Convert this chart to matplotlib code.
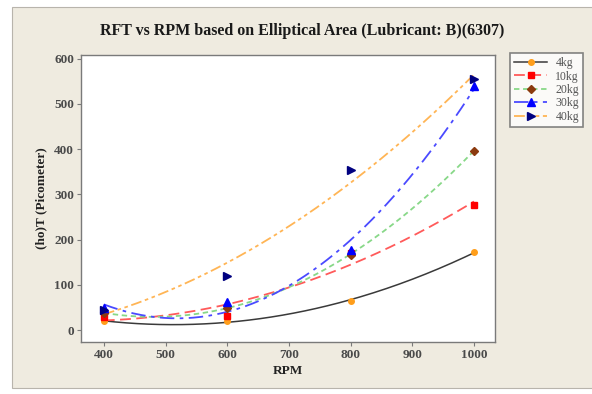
import numpy as np
import matplotlib
matplotlib.use("Agg")
import matplotlib.pyplot as plt
from matplotlib.lines import Line2D
from matplotlib.patches import Rectangle

rpm = [400, 600, 800, 1000]
labels = ["4kg", "10kg", "20kg", "30kg", "40kg"]
v4 = [20, 20, 65, 172]
v10 = [30, 32, 170, 276]
v20 = [38, 50, 167, 397]
v30 = [50, 62, 178, 540]
v40 = [45, 120, 355, 555]
series = [v4, v10, v20, v30, v40]

title = "RFT vs RPM based on Elliptical Area (Lubricant: B)(6307)"
xlabel = "RPM"
ylabel = "(ho)T (Picometer)"
xticks = [400, 500, 600, 700, 800, 900, 1000]
yticks = [0, 100, 200, 300, 400, 500, 600]

mk_colors = ["#FF9E1B", "#FF0000", "#8B3A0E", "#0000FF", "#000080"]
markers = ["o", "s", "D", "^", ">"]
msizes = [4, 4.5, 4.5, 5.5, 6]
ln_colors = ["#3A3A3A", "#FF5A5A", "#88D888", "#4A4AFF", "#FFB555"]
ln_styles = ["-", (0, (6, 3)), (0, (3, 2)), (0, (8, 3, 2, 3)), (0, (6, 2, 2, 2, 2, 2))]
ln_widths = [1.1, 1.3, 1.3, 1.3, 1.3]

plt.rcParams["font.family"] = ["Liberation Serif", "DejaVu Serif"]

fig = plt.figure(figsize=(5.92, 3.94), dpi=100)
fig.patch.set_facecolor("white")
fig.patches.append(Rectangle((12 / 592, 6 / 394), 1 - 12 / 592 + 0.01, 1 - 13 / 394,
                             transform=fig.transFigure, facecolor="#EFEBE0",
                             edgecolor="#B8B4AC", linewidth=0.8, zorder=-10))

ax = fig.add_axes([81 / 592, 1 - 342 / 394, (495 - 81) / 592, (342 - 55) / 394])
ax.set_facecolor("white")

xs = np.array(rpm, dtype=float)
xf = np.linspace(400, 1000, 200)
handles = []
for vals, mc, mk, ms, lc, ls, lw, lab in zip(series, mk_colors, markers, msizes,
                                                ln_colors, ln_styles, ln_widths, labels):
    coef = np.polyfit(xs, np.array(vals, dtype=float), 2)
    ax.plot(xf, np.polyval(coef, xf), color=lc, linestyle=ls, linewidth=lw, zorder=2)
    ax.plot(xs, vals, linestyle="none", marker=mk, color=mc, markersize=ms, zorder=3)
    handles.append(Line2D([], [], color=lc, linestyle=ls, linewidth=lw, marker=mk,
                          markerfacecolor=mc, markeredgecolor=mc, markersize=ms))

ax.set_xlim(363, 1034)
ax.set_ylim(-26, 608)
ax.set_xticks(xticks)
ax.set_yticks(yticks)
for s in ax.spines.values():
    s.set_color("#7A7A7A")
    s.set_linewidth(1.0)
ax.tick_params(direction="out", length=3, width=0.8, color="#7A7A7A",
               labelsize=9.5, labelcolor="#4A4A4A", pad=2)
for t in ax.get_xticklabels() + ax.get_yticklabels():
    t.set_fontweight("bold")

ax.set_xlabel(xlabel, fontsize=9.5, fontweight="bold", color="#222222", labelpad=3)
ax.set_ylabel(ylabel, fontsize=9.5, fontweight="bold", color="#222222", labelpad=5)
fig.text(302 / 592, 1 - 31 / 394, title, ha="center", va="center",
         fontsize=11.5, fontweight="bold", color="#1A1A1A")

leg = fig.legend(handles, labels, loc="upper left",
                 bbox_to_anchor=(510 / 592, 1 - 53 / 394), borderaxespad=0,
                 fontsize=8.5, handlelength=2.8, handletextpad=0.7,
                 labelspacing=0.12, borderpad=0.35, fancybox=False,
                 frameon=True, labelcolor="#555555")
leg.get_frame().set_edgecolor("#666666")
leg.get_frame().set_linewidth(1.2)
leg.get_frame().set_facecolor("white")

fig.savefig("out.png", dpi=100, facecolor=fig.get_facecolor())
